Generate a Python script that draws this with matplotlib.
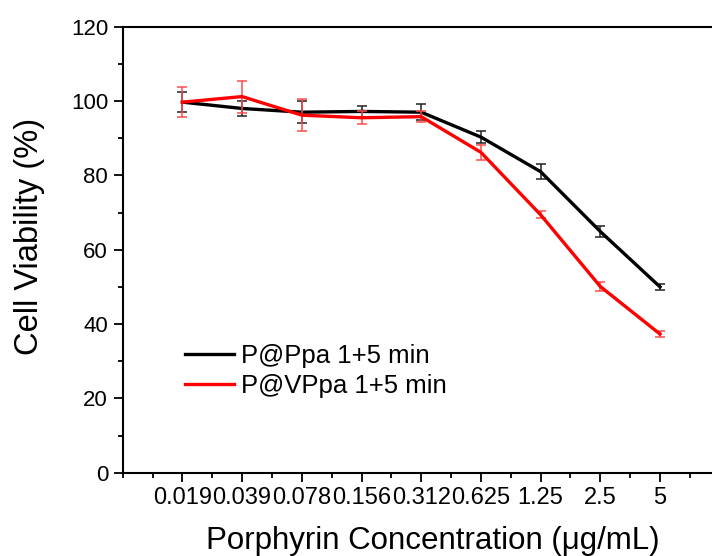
import matplotlib
matplotlib.use("Agg")
import matplotlib.pyplot as plt
from matplotlib.ticker import MultipleLocator
from matplotlib.lines import Line2D

plt.rcParams['font.family'] = ['Liberation Sans', 'DejaVu Sans']

categories = ["0.019", "0.039", "0.078", "0.156", "0.312", "0.625", "1.25", "2.5", "5"]
ppa_mean = [99.7, 98.0, 97.0, 97.2, 97.0, 90.3, 81.0, 64.9, 50.0]
ppa_err = [2.6, 2.1, 2.9, 1.5, 2.1, 1.6, 2.0, 1.6, 0.8]
vppa_mean = [99.7, 101.2, 96.2, 95.5, 95.8, 86.2, 69.4, 50.1, 37.3]
vppa_err = [4.0, 4.3, 4.3, 1.8, 1.4, 2.0, 1.0, 1.1, 0.9]
series_labels = ["P@Ppa 1+5 min", "P@VPpa 1+5 min"]

fig = plt.figure(figsize=(7.12, 5.56), dpi=100)
ax = fig.add_axes([122.7 / 712, (556 - 472.7) / 556, 597 / 712, 446 / 556])

x = list(range(1, len(categories) + 1))

ax.errorbar(x, ppa_mean, yerr=ppa_err, color='black', lw=2.4, ecolor='#222222',
            elinewidth=1.1, capsize=3.8, capthick=1.1, label=series_labels[0], zorder=3)
ax.errorbar(x, vppa_mean, yerr=vppa_err, color='#ff0000', lw=2.4, ecolor='#ff4a4a',
            elinewidth=1.1, capsize=3.8, capthick=1.1, label=series_labels[1], zorder=4)

ax.set_xlim(0, 10)
ax.set_ylim(0, 120)
ax.set_xticks(x)
ax.set_xticklabels(categories)
ax.xaxis.set_minor_locator(MultipleLocator(0.5))
ax.yaxis.set_major_locator(MultipleLocator(20))
ax.yaxis.set_minor_locator(MultipleLocator(10))
ax.tick_params(axis='both', which='major', direction='out', length=6.5, width=1.3, pad=4)
ax.tick_params(axis='x', which='major', labelsize=17)
ax.tick_params(axis='y', which='major', labelsize=16)
ax.tick_params(axis='both', which='minor', direction='out', length=3.8, width=1.3)
ax.tick_params(axis='x', which='both', top=False)
ax.tick_params(axis='y', which='both', right=False)

for s in ['left', 'bottom', 'top']:
    ax.spines[s].set_linewidth(1.5)
ax.spines['right'].set_visible(False)

ax.set_xlabel("Porphyrin Concentration (\u03bcg/mL)", fontsize=22.5)
ax.xaxis.set_label_coords(0.52, -0.12)
ax.set_ylabel("Cell Viability (%)", fontsize=23.5)
ax.yaxis.set_label_coords(-0.13, 0.53)

h2 = [Line2D([], [], color='black', lw=2.4), Line2D([], [], color='#ff0000', lw=2.4)]
ax.legend(h2, series_labels, loc='center left', bbox_to_anchor=(0.105, 0.228),
          frameon=False, fontsize=18.5, handlelength=1.9, handletextpad=0.25,
          labelspacing=0.2, borderaxespad=0, borderpad=0)

fig.savefig("out.png", dpi=100)
